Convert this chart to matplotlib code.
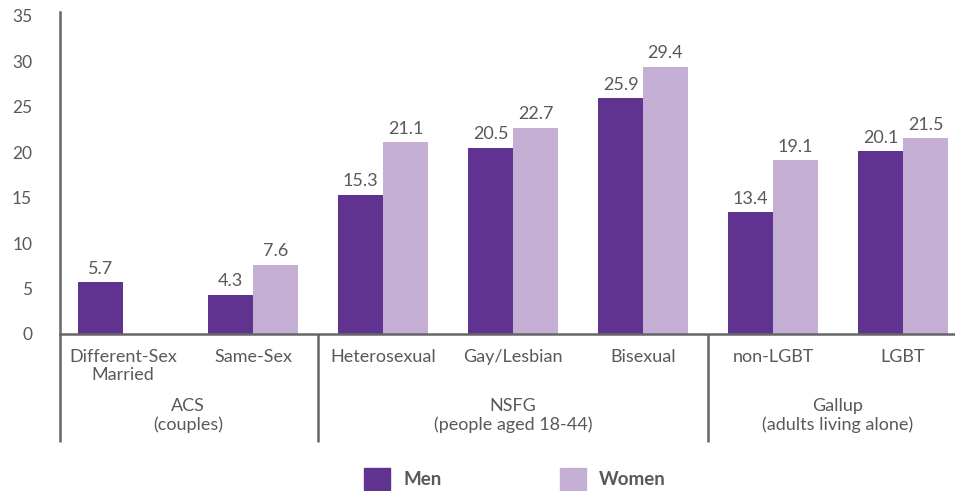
import matplotlib.pyplot as plt
import numpy as np
from matplotlib.patches import Patch

plt.rcParams['font.family'] = ['Lato', 'DejaVu Sans']

# data
categories = ["Different-Sex\nMarried", "Same-Sex", "Heterosexual", "Gay/Lesbian",
              "Bisexual", "non-LGBT", "LGBT"]
men = [5.7, 4.3, 15.3, 20.5, 25.9, 13.4, 20.1]
women = [np.nan, 7.6, 21.1, 22.7, 29.4, 19.1, 21.5]
groups = ["ACS\n(couples)", "NSFG\n(people aged 18-44)", "Gallup\n(adults living alone)"]
group_spans = [(0, 1), (2, 4), (5, 6)]

men_color = '#613391'
women_color = '#c4aed4'
text_color = '#595959'
line_color = '#666666'

W, H = 955, 491
fig = plt.figure(figsize=(W / 100, H / 100), dpi=100)
# axes box in pixels: left 60, right 955, zero line at y=334, top at y=12
ax = fig.add_axes([60 / W, (H - 334) / H, 895 / W, 322 / H])

x = np.arange(len(categories))
bw = 0.346
ax.bar(x - bw / 2, men, bw, color=men_color, label='Men')
ax.bar(x + bw / 2, women, bw, color=women_color, label='Women')

for xi, m, w in zip(x, men, women):
    ax.annotate(f"{m}", (xi - bw / 2, m), xytext=(0, 4), textcoords='offset points',
                ha='center', va='bottom', fontsize=13, color=text_color)
    if not np.isnan(w):
        ax.annotate(f"{w}", (xi + bw / 2, w), xytext=(0, 4), textcoords='offset points',
                    ha='center', va='bottom', fontsize=13, color=text_color)

ax.set_xlim(-0.485, 6.4)
ax.set_ylim(0, 35.4)
ax.set_yticks(range(0, 36, 5))
ax.set_xticks([])
ax.tick_params(axis='y', length=0, pad=20, labelsize=12.5, labelcolor=text_color)

for s in ['top', 'right']:
    ax.spines[s].set_visible(False)
for s in ['left', 'bottom']:
    ax.spines[s].set_color(line_color)
    ax.spines[s].set_linewidth(1.8)


def ypx(p):
    # pixel row -> axes fraction
    return (334 - p) / 322


tr = ax.get_xaxis_transform()
for xi, lab in zip(x, categories):
    ax.text(xi, ypx(349), lab, transform=tr, ha='center', va='top',
            fontsize=13, color=text_color, linespacing=1.15)

for (a, b), g in zip(group_spans, groups):
    ax.text((a + b) / 2, ypx(398), g, transform=tr, ha='center', va='top',
            fontsize=13, color=text_color, linespacing=1.15)

for sx in [-0.485, 1.5, 4.5]:
    ax.plot([sx, sx], [0, ypx(442)], transform=tr, color=line_color,
            lw=1.8, clip_on=False, solid_capstyle='butt')

handles = [Patch(color=men_color, label='Men'), Patch(color=women_color, label='Women')]
leg = fig.legend(handles=handles, loc='center', bbox_to_anchor=(515 / W, 12 / H),
                 ncol=2, frameon=False, handlelength=1.4, handleheight=1.4,
                 columnspacing=6.3, handletextpad=0.7,
                 prop={'weight': 'bold', 'size': 13.5})
for t in leg.get_texts():
    t.set_color(text_color)

fig.savefig('out.png', dpi=100)
